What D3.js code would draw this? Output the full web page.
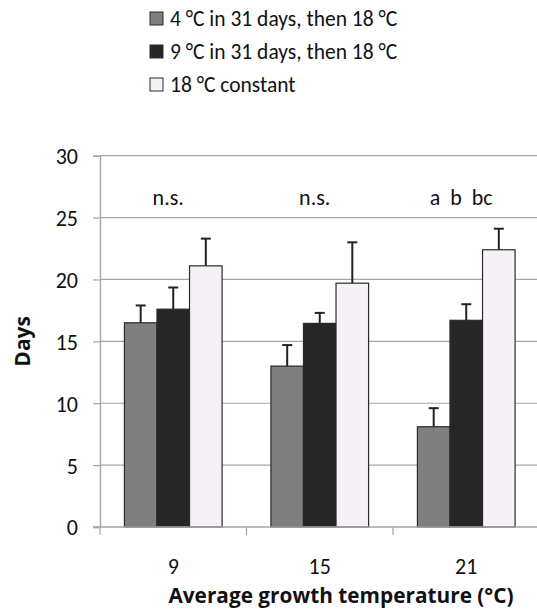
<!DOCTYPE html>
<html>
<head>
<meta charset="utf-8">
<script src="https://cdn.jsdelivr.net/npm/d3@7"></script>
<style>
  html, body { margin: 0; padding: 0; background: #fff; }
  svg { display: block; }
  text { font-family: Carlito, Lato, "Open Sans", sans-serif; fill: #111; }
</style>
</head>
<body>
<svg id="chart" width="537" height="611"></svg>
<script>
// ---- data ----
const categories = ["9", "15", "21"];
const seriesNames = ["4 °C in 31 days, then 18 °C", "9 °C in 31 days, then 18 °C", "18 °C constant"];
const series4C = [16.5, 13.0, 8.1];
const series9C = [17.6, 16.45, 16.7];
const series18C = [21.1, 19.7, 22.4];
const err4C = [1.4, 1.7, 1.5];
const err9C = [1.75, 0.85, 1.3];
const err18C = [2.2, 3.3, 1.7];
const annotations = ["n.s.", "n.s.", "a  b  bc"];
const yTicks = [0, 5, 10, 15, 20, 25, 30];
const xTitle = "Average growth temperature (°C)";
const yTitle = "Days";

(function () {
const values = [series4C, series9C, series18C];
const errors = [err4C, err9C, err18C];
const colors = ["#7f7f7f", "#262626", "#f6f1f6"];
const fs = 22;

const svg = d3.select("#chart");
const pLeft = 100, pRight = 539.5, pTop = 155.7, pBottom = 527;

const x0 = d3.scaleBand().domain(categories).range([pLeft, pRight]).padding(0);
const bw = x0.bandwidth();
const x1 = d3.scaleBand().domain(d3.range(seriesNames.length)).range([bw / 6, bw * 5 / 6]).padding(0);
const y = d3.scaleLinear().domain([0, 30]).range([pBottom, pTop]);

// gridlines
svg.append("g").selectAll("line").data(yTicks.filter(d => d > 0)).join("line")
  .attr("x1", pLeft).attr("x2", 537).attr("y1", d => y(d)).attr("y2", d => y(d))
  .attr("stroke", "#a6a6a6").attr("stroke-width", 1.2);

// y axis
const yAxis = svg.append("g").attr("transform", `translate(${pLeft},0)`)
  .call(d3.axisLeft(y).tickValues(yTicks).tickSize(7).tickPadding(15));
yAxis.select(".domain").attr("stroke", "#a6a6a6").attr("stroke-width", 1.4);
yAxis.selectAll(".tick line").attr("stroke", "#a6a6a6").attr("stroke-width", 1.2);
yAxis.selectAll(".tick text").attr("font-size", fs).attr("fill", "#111")
  .style("font-family", "Carlito, Lato, sans-serif").attr("dy", "0.36em");

// bars
const groups = svg.append("g").selectAll("g").data(categories).join("g")
  .attr("transform", d => `translate(${x0(d)},0)`);
groups.each(function(cat, ci) {
  const g = d3.select(this);
  seriesNames.forEach((s, si) => {
    const v = values[si][ci];
    g.append("rect")
      .attr("x", x1(si)).attr("width", x1.bandwidth())
      .attr("y", y(v)).attr("height", y(0) - y(v))
      .attr("fill", colors[si]).attr("stroke", "#2a2a2a").attr("stroke-width", 1.2);
  });
});

// x axis
const xAxis = svg.append("g").attr("transform", `translate(0,${pBottom})`);
xAxis.append("line").attr("x1", pLeft - 7).attr("x2", 537).attr("y1", 0).attr("y2", 0)
  .attr("stroke", "#a6a6a6").attr("stroke-width", 1.4);
xAxis.selectAll("line.tk").data(categories.concat(["end"])).join("line").attr("class", "tk")
  .attr("x1", (d, i) => pLeft + i * bw).attr("x2", (d, i) => pLeft + i * bw)
  .attr("y1", 0).attr("y2", 8).attr("stroke", "#a6a6a6").attr("stroke-width", 1.2);
xAxis.selectAll("text").data(categories).join("text")
  .attr("x", d => x0(d) + bw / 2).attr("y", 47)
  .attr("text-anchor", "middle").attr("font-size", fs).text(d => d);

// error bars
groups.each(function(cat, ci) {
  const g = d3.select(this);
  seriesNames.forEach((s, si) => {
    const v = values[si][ci], e = errors[si][ci];
    const cx = x1(si) + x1.bandwidth() / 2;
    g.append("line").attr("x1", cx).attr("x2", cx).attr("y1", y(v)).attr("y2", y(v + e))
      .attr("stroke", "#222").attr("stroke-width", 2);
    g.append("line").attr("x1", cx - 5).attr("x2", cx + 5).attr("y1", y(v + e)).attr("y2", y(v + e))
      .attr("stroke", "#222").attr("stroke-width", 2);
  });
});

// annotations
svg.append("g").selectAll("text").data(annotations).join("text")
  .attr("x", (d, i) => x0(categories[i]) + bw / 2 - 5)
  .attr("y", y(26.0))
  .attr("text-anchor", "middle").attr("font-size", fs)
  .style("white-space", "pre").attr("xml:space", "preserve")
  .text(d => d);

// axis titles
svg.append("text").attr("x", 341).attr("y", 603).attr("text-anchor", "middle")
  .style("font-family", "'Open Sans', Lato, sans-serif")
  .attr("font-size", 20.8).attr("font-weight", "bold").text(xTitle);
svg.append("text").attr("transform", `translate(30,${(pTop + pBottom) / 2}) rotate(-90)`)
  .style("font-family", "'Open Sans', Lato, sans-serif")
  .attr("text-anchor", "middle").attr("font-size", 21).attr("font-weight", "bold").text(yTitle);

// legend
const legend = svg.append("g").selectAll("g").data(seriesNames).join("g")
  .attr("transform", (d, i) => `translate(150,${18.5 + i * 33})`);
legend.append("rect").attr("x", 0).attr("y", -6.5).attr("width", 13).attr("height", 13)
  .attr("fill", (d, i) => colors[i]).attr("stroke", "#2a2a2a").attr("stroke-width", 1);
legend.append("text").attr("x", 20).attr("y", 7.5).attr("font-size", 21.5).text(d => d);
})();
</script>
</body>
</html>
